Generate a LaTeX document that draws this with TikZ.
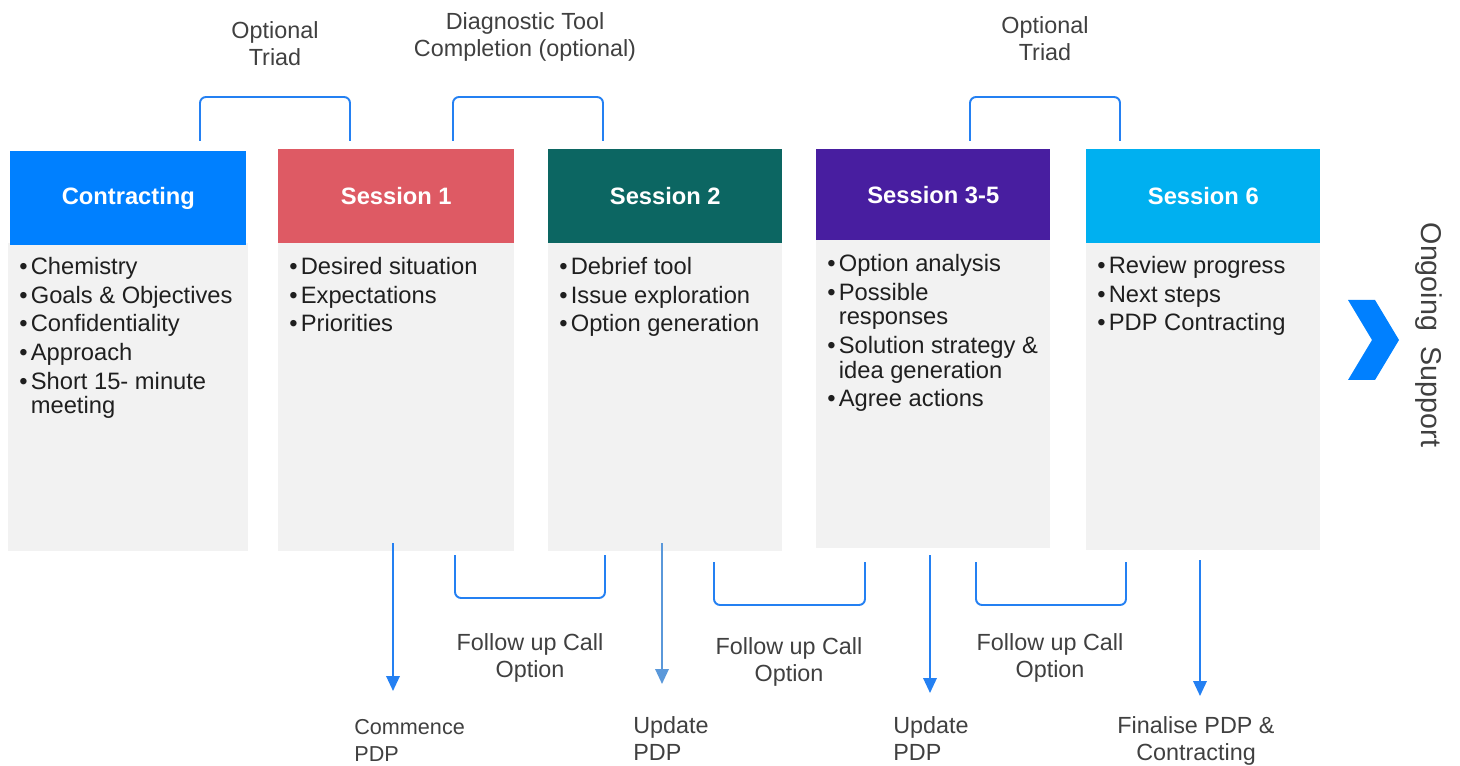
\documentclass[tikz,border=0pt]{standalone}
\usepackage{fontspec}
\setmainfont{Liberation Sans}
\usepackage{xcolor}
\usetikzlibrary{positioning,arrows.meta,calc}

\definecolor{contractblue}{RGB}{0,128,255}
\definecolor{sessred}{RGB}{222,90,100}
\definecolor{sessteal}{RGB}{12,102,98}
\definecolor{sesspurple}{RGB}{72,30,160}
\definecolor{sesscyan}{RGB}{0,176,240}
\definecolor{bodygrey}{RGB}{242,242,242}
\definecolor{notegrey}{RGB}{64,64,64}
\definecolor{linkblue}{RGB}{36,128,242}
\definecolor{paleblue}{RGB}{90,152,218}

\newcommand{\itm}[1]{\makebox[0.23cm][l]{\textbullet}#1}
\newcommand{\cnt}[1]{\hspace*{0.23cm}#1}

\tikzset{
    head/.style={fill=#1, text=white, font=\fontsize{13.5}{16}\selectfont\bfseries,
        minimum width=4.72cm, minimum height=1.87cm, inner sep=0pt, anchor=north west},
    body/.style={fill=bodygrey, minimum width=4.72cm, minimum height=6.16cm,
        inner sep=0pt, anchor=north west},
    items/.style={align=left, inner sep=0pt, text=black!88,
        font=\fontsize{13.5}{14}\selectfont},
    note/.style={align=center, inner sep=0pt, text=notegrey,
        font=\fontsize{13.3}{15.4}\selectfont},
    bracket/.style={draw=linkblue, line width=1.1pt, rounded corners=0.12cm},
    pdparrow/.style={draw=linkblue, line width=1.1pt, -{Triangle[length=0.3cm, width=0.27cm]}},
}

\begin{document}
\begin{tikzpicture}[x=0.02cm, y=-0.02cm]
    \useasboundingbox (0,0) rectangle (1460,766);

    % Contracting
    \node[body, minimum width=4.8cm] (conb) at (8,243) {};
    \node[head=contractblue] (con) at (10,151) {Contracting};
    \node[items, anchor=north west, below right=0.28cm and 0.22cm of conb.north west] (conl) {%
        \itm{Chemistry}\\[2.3pt]
        \itm{Goals \& Objectives}\\[2.3pt]
        \itm{Confidentiality}\\[2.3pt]
        \itm{Approach}\\[2.3pt]
        \itm{Short 15- minute}\\
        \cnt{meeting}};

    % Session 1
    \node[body] (s1b) at (278,243) {};
    \node[head=sessred] (s1) at (278,149) {Session 1};
    \node[items, below right=0.28cm and 0.22cm of s1b.north west] (s1l) {%
        \itm{Desired situation}\\[2.3pt]
        \itm{Expectations}\\[2.3pt]
        \itm{Priorities}};

    % Session 2
    \node[body, minimum width=4.68cm] (s2b) at (548,243) {};
    \node[head=sessteal, minimum width=4.68cm] (s2) at (548,149) {Session 2};
    \node[items, below right=0.28cm and 0.22cm of s2b.north west] (s2l) {%
        \itm{Debrief tool}\\[2.3pt]
        \itm{Issue exploration}\\[2.3pt]
        \itm{Option generation}};

    % Session 3-5
    \node[body, minimum width=4.68cm] (s3b) at (816,240) {};
    \node[head=sesspurple, minimum width=4.68cm, minimum height=1.82cm] (s3) at (816,149) {Session 3-5};
    \node[items, below right=0.28cm and 0.22cm of s3b.north west] (s3l) {%
        \itm{Option analysis}\\[2.3pt]
        \itm{Possible}\\
        \cnt{responses}\\[2.3pt]
        \itm{Solution strategy \&}\\
        \cnt{idea generation}\\[2.3pt]
        \itm{Agree actions}};

    % Session 6
    \node[body, minimum width=4.68cm] (s6b) at (1086,242) {};
    \node[head=sesscyan, minimum width=4.68cm] (s6) at (1086,149) {Session 6};
    \node[items, below right=0.28cm and 0.22cm of s6b.north west] (s6l) {%
        \itm{Review progress}\\[2.3pt]
        \itm{Next steps}\\[2.3pt]
        \itm{PDP Contracting}};

    % Ongoing support
    \fill[contractblue] (1348,300) -- (1375,300) -- (1399,340) -- (1375,380)
        -- (1348,380) -- (1372,340) -- cycle;
    \node[text=notegrey, font=\fontsize{16.3}{18}\selectfont, rotate=-90] (ongo) at (1429,335) {Ongoing\ \ Support};

    % Top brackets
    \coordinate (tb1) at (200,141);
    \coordinate (tb2) at (453,141);
    \coordinate (tb3) at (970,141);
    \draw[bracket] (tb1) -- ++(0,-44) -- ++(150,0) -- ++(0,44);
    \draw[bracket] (tb2) -- ++(0,-44) -- ++(150,0) -- ++(0,44);
    \draw[bracket] (tb3) -- ++(0,-44) -- ++(150,0) -- ++(0,44);
    \node[note] (triad1) at (275,44) {Optional\\Triad};
    \node[note] (diag) at (525,37) {Diagnostic Tool\\Completion (optional)};
    \node[note] (triad2) at (1045,39) {Optional\\Triad};

    % Bottom brackets
    \coordinate (bb1) at (455,555);
    \coordinate (bb2) at (714,562);
    \coordinate (bb3) at (976,562);
    \draw[bracket] (bb1) -- ++(0,43) -- ++(150,0) -- ++(0,-43);
    \draw[bracket] (bb2) -- ++(0,43) -- ++(151,0) -- ++(0,-43);
    \draw[bracket] (bb3) -- ++(0,43) -- ++(150,0) -- ++(0,-43);
    \node[note] (call1) at (530,658) {Follow up Call\\Option};
    \node[note] (call2) at (789,662) {Follow up Call\\Option};
    \node[note] (call3) at (1050,658) {Follow up Call\\Option};

    % PDP arrows
    \coordinate (p1s) at (393,543);  \coordinate (p1e) at (393,691);
    \coordinate (p2s) at (662,543);  \coordinate (p2e) at (662,684);
    \coordinate (p3s) at (930,555);  \coordinate (p3e) at (930,693);
    \coordinate (p4s) at (1200,560); \coordinate (p4e) at (1200,696);
    \draw[pdparrow] (p1s) -- (p1e);
    \draw[pdparrow, draw=paleblue] (p2s) -- (p2e);
    \draw[pdparrow] (p3s) -- (p3e);
    \draw[pdparrow] (p4s) -- (p4e);
    \node[note, align=left, anchor=north west, font=\fontsize{12.3}{15.4}\selectfont] (pdp1) at (354,719) {Commence\\PDP};
    \node[note, align=left, anchor=north west] (pdp2) at (633,716) {Update\\PDP};
    \node[note, align=left, anchor=north west] (pdp3) at (893,716) {Update\\PDP};
    \node[note, anchor=north] (pdp4) at (1196,716) {Finalise PDP \&\\Contracting};
\end{tikzpicture}
\end{document}
